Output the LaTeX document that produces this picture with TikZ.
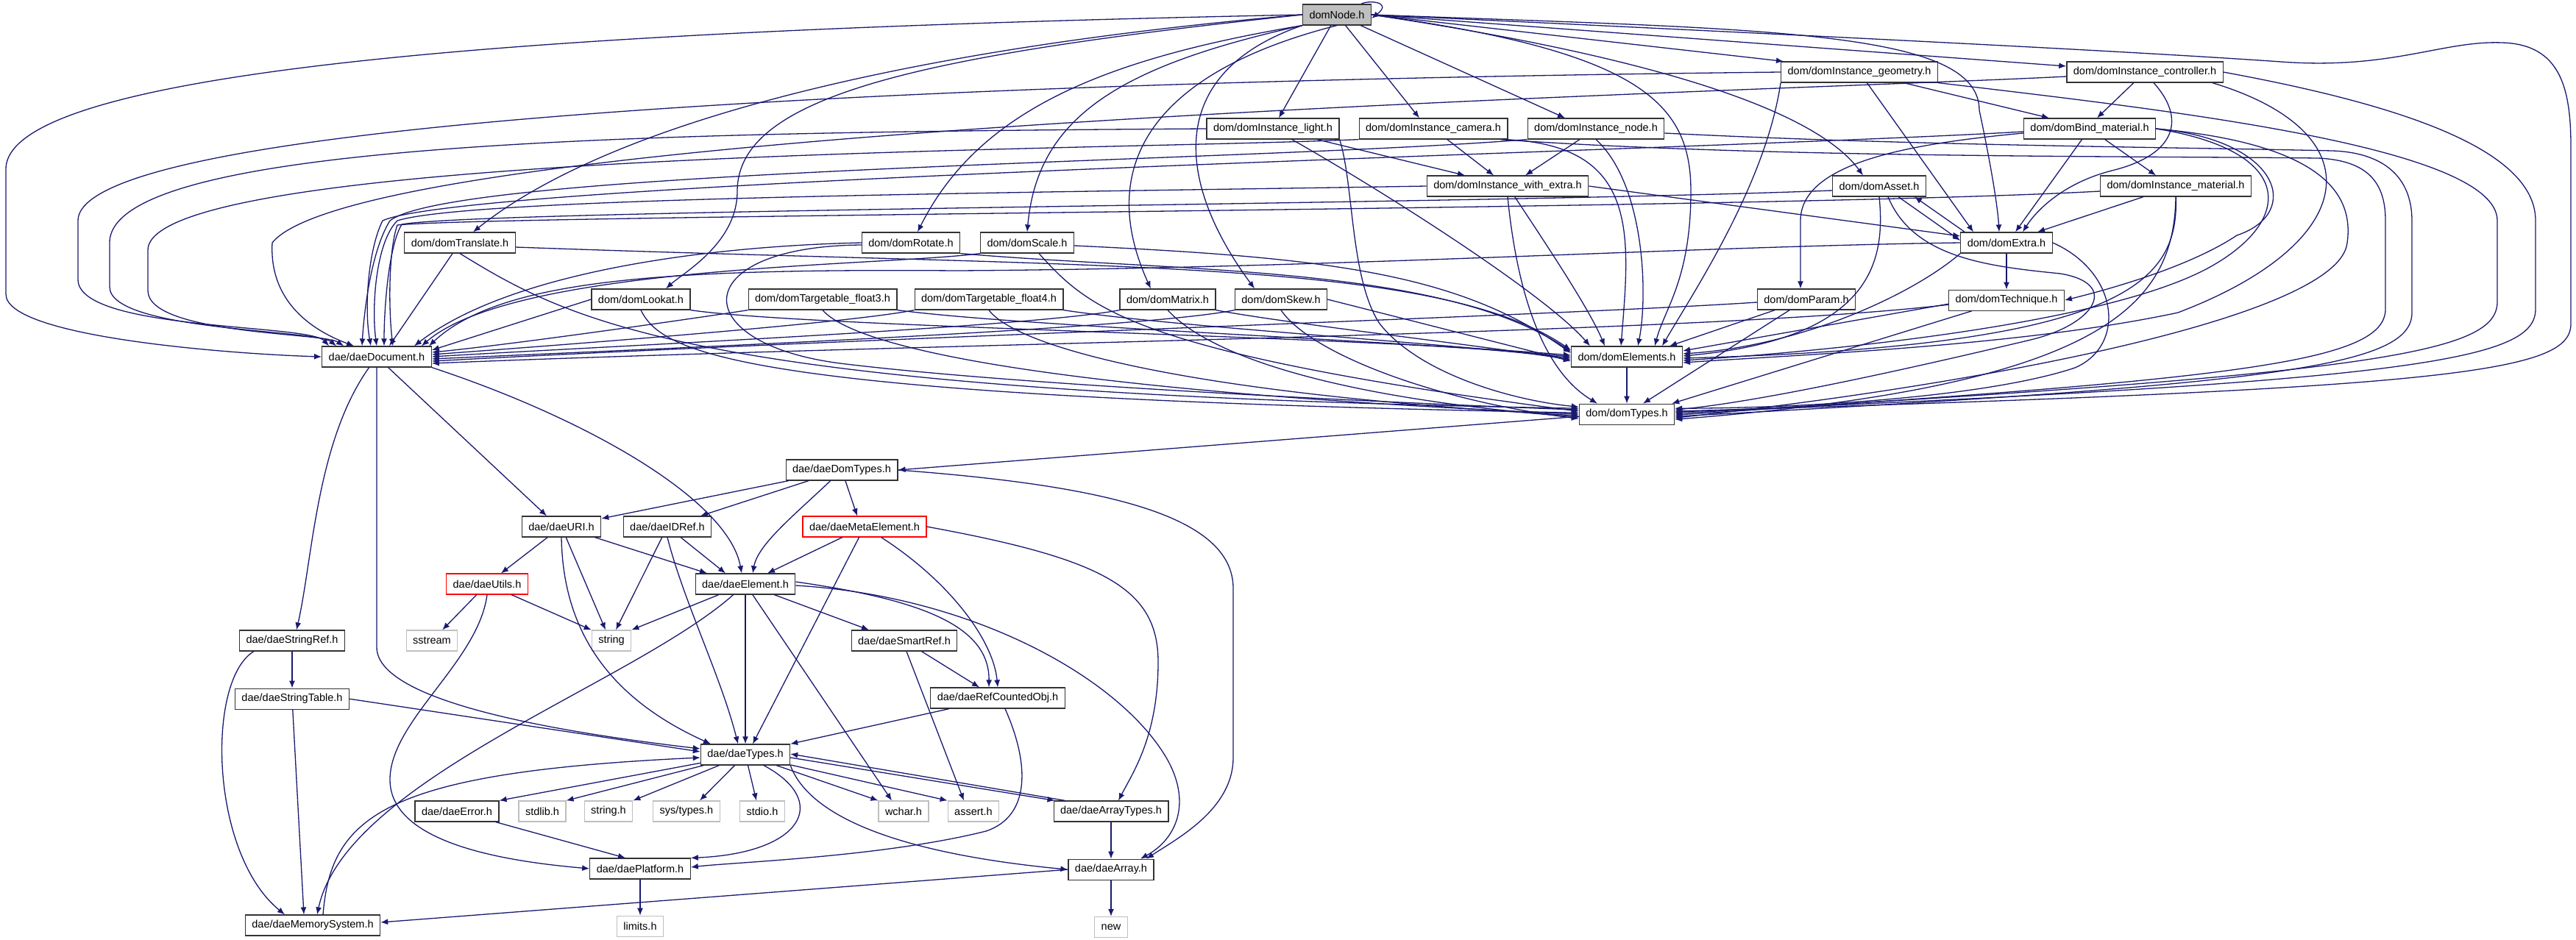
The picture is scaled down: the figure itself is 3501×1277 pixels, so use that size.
\documentclass[tikz,border=0pt]{standalone}
\usepackage{fontspec}
\setmainfont{Liberation Sans}
\usetikzlibrary{positioning,arrows.meta}
\definecolor{edgeblue}{HTML}{191970}
\definecolor{nodegrey}{HTML}{BFBFBF}

\begin{document}
\begin{tikzpicture}[
  x=1pt, y=-1pt,
  hdr/.style={draw=black!80, line width=1.2pt, fill=white, minimum height=28pt, inner xsep=9pt, inner ysep=2pt, font=\fontsize{14.5}{17}\selectfont},
  main/.style={hdr, fill=nodegrey},
  cut/.style={hdr, draw=red},
  sys/.style={hdr, draw=nodegrey},
  arr/.style={-{Latex[length=10pt,width=8pt]}, draw=edgeblue, line width=1.3pt}]
\path[use as bounding box, fill=white] (0,0) rectangle (3501,1277);
% ---- dom headers ----
\node[main] (domNode) at (1817,20) {domNode.h};
\node[hdr] (instGeom) at (2527,98) {dom/domInstance\_geometry.h};
\node[hdr] (instCtrl) at (2915,98) {dom/domInstance\_controller.h};
\node[hdr] (instLight) at (1730,175) {dom/domInstance\_light.h};
\node[hdr] (instCam) at (1948,175) {dom/domInstance\_camera.h};
\node[hdr] (instNode) at (2169,175) {dom/domInstance\_node.h};
\node[hdr] (bindMat) at (2840,175) {dom/domBind\_material.h};
\node[hdr] (instExtra) at (2049,253) {dom/domInstance\_with\_extra.h};
\node[hdr] (domAsset) at (2554,253) {dom/domAsset.h};
\node[hdr] (instMat) at (2957,253) {dom/domInstance\_material.h};
\node[hdr] (domTranslate) at (625,330) {dom/domTranslate.h};
\node[hdr] (domRotate) at (1238,330) {dom/domRotate.h};
\node[hdr] (domScale) at (1396,330) {dom/domScale.h};
\node[hdr] (domExtra) at (2727,330) {dom/domExtra.h};
\node[hdr] (domLookat) at (871,407) {dom/domLookat.h};
\node[hdr] (tgtFloat3) at (1118,407) {dom/domTargetable\_float3.h};
\node[hdr] (tgtFloat4) at (1344,407) {dom/domTargetable\_float4.h};
\node[hdr] (domMatrix) at (1587,407) {dom/domMatrix.h};
\node[hdr] (domSkew) at (1741,407) {dom/domSkew.h};
\node[hdr] (domParam) at (2455,407) {dom/domParam.h};
\node[hdr, below=49pt of domExtra] (domTechnique) {dom/domTechnique.h};
\node[hdr] (daeDocument) at (512,485) {dae/daeDocument.h};
\node[hdr] (domElements) at (2211,485) {dom/domElements.h};
\node[hdr, below=49pt of domElements] (domTypes) {dom/domTypes.h};
% ---- dae headers ----
\node[hdr] (daeDomTypes) at (1144,639) {dae/daeDomTypes.h};
\node[hdr] (daeURI) at (763,716) {dae/daeURI.h};
\node[hdr] (daeIDRef) at (907,716) {dae/daeIDRef.h};
\node[cut] (daeMeta) at (1175,716) {dae/daeMetaElement.h};
\node[cut] (daeUtils) at (662,794) {dae/daeUtils.h};
\node[hdr] (daeElement) at (1013,794) {dae/daeElement.h};
\node[hdr] (daeStringRef) at (397,871) {dae/daeStringRef.h};
\node[sys] (sstream) at (587,871) {sstream};
\node[sys] (strg) at (831,871) {string};
\node[hdr] (daeSmartRef) at (1229,871) {dae/daeSmartRef.h};
\node[hdr, below=50pt of daeStringRef] (daeStringTable) {dae/daeStringTable.h};
\node[hdr] (daeRefCounted) at (1356,949) {dae/daeRefCountedObj.h};
\node[hdr] (daeTypes) at (1013,1026) {dae/daeTypes.h};
\node[hdr] (daeError) at (621,1103) {dae/daeError.h};
\node[sys] (stdlibH) at (737,1103) {stdlib.h};
\node[sys] (stringH) at (827,1103) {string.h};
\node[sys] (sysTypesH) at (933,1103) {sys/types.h};
\node[sys] (stdioH) at (1036,1103) {stdio.h};
\node[sys] (wcharH) at (1228,1103) {wchar.h};
\node[sys] (assertH) at (1323,1103) {assert.h};
\node[hdr] (daeArrayTypes) at (1510,1103) {dae/daeArrayTypes.h};
\node[hdr] (daePlatform) at (870,1181) {dae/daePlatform.h};
\node[hdr, below=50pt of daeArrayTypes] (daeArray) {dae/daeArray.h};
\node[sys, below=49pt of daePlatform] (limitsH) {limits.h};
\node[sys, below=49pt of daeArray] (newH) {new};
\node[hdr] (daeMemSys) at (425,1258) {dae/daeMemorySystem.h};
% ---- domNode includes ----
\draw[arr] (domNode.west) .. controls (900,38) and (8,80) .. (8,230) -- (8,400) .. controls (8,460) and (330,482) .. (daeDocument.west);
\draw[arr] (domNode.east) .. controls (2500,50) and (2900,70) .. (3100,84) .. controls (3250,95) and (3320,55) .. (3400,58) .. controls (3480,60) and (3494,120) .. (3494,200) -- (3494,440) .. controls (3494,505) and (3350,528) .. ([yshift=4pt]domTypes.east);
\draw[arr] ([xshift=-14pt]domNode.north east) .. controls (1858,0) and (1894,2) .. ([yshift=-5pt]domNode.east);
\draw[arr] (domNode.west) .. controls (1300,60) and (850,150) .. ([xshift=18pt]domTranslate.north);
\draw[arr] (domNode.west) .. controls (1250,75) and (1002,130) .. (1002,260) .. controls (1002,330) and (930,370) .. ([xshift=34pt]domLookat.north);
\draw[arr] (domNode.south west) .. controls (1500,80) and (1330,150) .. ([xshift=9pt]domRotate.north);
\draw[arr] (domNode.south west) .. controls (1520,90) and (1410,160) .. (domScale.north);
\draw[arr] (domNode.south) .. controls (1560,100) and (1490,230) .. ([xshift=-23pt]domMatrix.north);
\draw[arr] (domNode.south west) .. controls (1580,100) and (1600,250) .. ([xshift=-36pt]domSkew.north);
\draw[arr] (domNode) -- ([xshift=8pt]instLight.north);
\draw[arr] (domNode) -- ([xshift=-19pt]instCam.north);
\draw[arr] (domNode) -- ([xshift=-42pt]instNode.north);
\draw[arr] (domNode.east) -- ([xshift=4pt]instGeom.north west);
\draw[arr] (domNode.east) -- ([yshift=8pt]instCtrl.west);
\draw[arr] (domNode.east) .. controls (2200,70) and (2460,140) .. ([xshift=-22pt]domAsset.north);
\draw[arr] (domNode.east) .. controls (2400,40) and (2690,40) .. (2690,150) .. controls (2705,220) and (2715,280) .. ([xshift=-10pt]domExtra.north);
\draw[arr] (domNode.east) .. controls (2230,70) and (2298,140) .. (2298,260) .. controls (2298,380) and (2262,420) .. ([xshift=38pt]domElements.north);
% ---- instance headers ----
\draw[arr] (instLight) -- ([xshift=-58pt]instExtra.north);
\draw[arr] (instCam) -- ([xshift=-19pt]instExtra.north);
\draw[arr] (instNode) -- ([xshift=24pt]instExtra.north);
\draw[arr] (instGeom) -- ([xshift=-55pt]bindMat.north);
\draw[arr] (instGeom) -- ([xshift=-45pt]domExtra.north);
\draw[arr] (instCtrl) -- ([xshift=10pt]bindMat.north);
\draw[arr] ([xshift=12pt]instCtrl.south) .. controls (2970,160) and (2960,210) .. (2870,232) .. controls (2800,250) and (2765,290) .. ([xshift=22pt]domExtra.north);
\draw[arr] (bindMat) -- ([xshift=-27pt]instMat.north);
\draw[arr] (bindMat) -- ([xshift=12pt]domExtra.north);
\draw[arr] ([yshift=-6pt]bindMat.west) .. controls (2600,195) and (2447,220) .. (2447,300) -- ([xshift=-8pt]domParam.north);
\draw[arr] (bindMat.east) .. controls (3100,190) and (3130,290) .. (3040,320) .. controls (2980,360) and (2880,390) .. (domTechnique.east);
\draw[arr] (instMat) -- ([xshift=42pt]domExtra.north);
\draw[arr] ([xshift=-38pt]domAsset.south east) -- ([yshift=3pt]domExtra.west);
\draw[arr] ([xshift=6pt]domExtra.north west) -- ([xshift=-16pt]domAsset.south east);
\draw[arr] (instExtra.east) -- ([yshift=9pt]domExtra.west);
\draw[arr] (domExtra) -- (domTechnique);
% ---- to daeDocument ----
\draw[arr] (instGeom.west) .. controls (1500,108) and (106,150) .. (106,300) -- (106,380) .. controls (106,450) and (420,440) .. ([xshift=10pt]daeDocument.north west);
\draw[arr] (instLight.west) .. controls (900,180) and (149,190) .. (149,330) -- (149,390) .. controls (149,450) and (430,448) .. ([xshift=20pt]daeDocument.north west);
\draw[arr] (instCam.south west) .. controls (1500,205) and (201,205) .. (201,340) -- (201,395) .. controls (201,455) and (440,452) .. ([xshift=30pt]daeDocument.north west);
\draw[arr] ([yshift=-6pt]instCtrl.west) .. controls (2400,125) and (500,170) .. (370,330) .. controls (365,420) and (440,455) .. ([xshift=44pt]daeDocument.north west);
\draw[arr] (instNode.south west) .. controls (1700,220) and (620,230) .. (530,300) .. controls (505,340) and (495,420) .. ([xshift=-20pt]daeDocument.north);
\draw[arr] ([yshift=-4pt]bindMat.west) .. controls (2300,205) and (640,245) .. (520,300) .. controls (500,340) and (495,420) .. ([xshift=-8pt]daeDocument.north);
\draw[arr] (instExtra.west) .. controls (1400,262) and (640,268) .. (540,300) .. controls (510,330) and (505,420) .. (daeDocument.north);
\draw[arr] ([yshift=-6pt]domAsset.west) .. controls (2000,278) and (660,285) .. (546,305) .. controls (528,335) and (522,420) .. ([xshift=10pt]daeDocument.north);
\draw[arr] ([yshift=-7pt]instMat.west) .. controls (2400,285) and (680,292) .. (540,306) .. controls (528,340) and (528,420) .. ([xshift=22pt]daeDocument.north);
\draw[arr] (domTranslate) -- ([xshift=17pt]daeDocument.north);
\draw[arr] (domRotate.west) .. controls (950,335) and (690,372) .. ([xshift=-24pt]daeDocument.north east);
\draw[arr] (domScale.south west) .. controls (1200,362) and (700,360) .. ([xshift=-14pt]daeDocument.north east);
\draw[arr] (domExtra.west) .. controls (2300,335) and (1800,365) .. (1300,368) .. controls (900,365) and (680,380) .. ([xshift=-4pt]daeDocument.north east);
\draw[arr] (domLookat.west) -- ([yshift=9pt]daeDocument.east);
\draw[arr] (tgtFloat3.south west) .. controls (950,432) and (700,468) .. ([yshift=6pt]daeDocument.east);
\draw[arr] (tgtFloat4.south west) .. controls (1150,440) and (750,470) .. ([yshift=3pt]daeDocument.east);
\draw[arr] (domMatrix.south west) .. controls (1400,445) and (800,472) .. (daeDocument.east);
\draw[arr] (domSkew.south west) .. controls (1550,448) and (850,476) .. ([yshift=-3pt]daeDocument.east);
\draw[arr] ([yshift=-4pt]domParam.west) .. controls (2100,430) and (1200,458) .. ([yshift=-6pt]daeDocument.east);
\draw[arr] ([yshift=-6pt]domTechnique.west) .. controls (2300,455) and (1300,465) .. ([yshift=-9pt]daeDocument.east);
% ---- to domElements ----
\draw[arr] ([yshift=-6pt]domTranslate.east) .. controls (1500,365) and (1950,350) .. ([yshift=9pt]domElements.west);
\draw[arr] (domRotate.south east) .. controls (1600,370) and (1960,360) .. ([yshift=7pt]domElements.west);
\draw[arr] ([yshift=-4pt]domScale.east) .. controls (1800,350) and (1980,370) .. ([yshift=5pt]domElements.west);
\draw[arr] (domLookat.south east) .. controls (1100,445) and (1800,455) .. ([yshift=2pt]domElements.west);
\draw[arr] (tgtFloat3.south east) .. controls (1400,445) and (1900,462) .. (domElements.west);
\draw[arr] (tgtFloat4.south east) .. controls (1600,445) and (1950,465) .. ([yshift=-2pt]domElements.west);
\draw[arr] (domMatrix.south east) .. controls (1750,440) and (2000,468) .. ([yshift=-4pt]domElements.west);
\draw[arr] (domSkew.east) -- ([yshift=-6pt]domElements.west);
\draw[arr] (instLight) .. controls (1880,260) and (2100,400) .. ([xshift=-50pt]domElements.north);
\draw[arr] ([xshift=-8pt]instCam.south east) .. controls (2230,195) and (2215,320) .. ([xshift=-8pt]domElements.north);
\draw[arr] (instNode.south) .. controls (2235,250) and (2240,400) .. ([xshift=15pt]domElements.north);
\draw[arr] (instExtra) .. controls (2100,330) and (2160,420) .. ([xshift=-30pt]domElements.north);
\draw[arr] (instGeom.south west) .. controls (2400,250) and (2300,400) .. ([xshift=48pt]domElements.north);
\draw[arr] (domParam) -- ([xshift=58pt]domElements.north);
\draw[arr] ([yshift=-5pt]domTechnique.west) -- ([yshift=8pt]domElements.east);
\draw[arr] (domExtra.south west) .. controls (2600,400) and (2450,470) .. ([yshift=4pt]domElements.east);
\draw[arr] (domAsset.south) .. controls (2562,350) and (2550,460) .. ([yshift=1pt]domElements.east);
\draw[arr] (instMat) .. controls (2960,380) and (2900,470) .. ([yshift=-2pt]domElements.east);
\draw[arr] (bindMat.east) .. controls (3120,205) and (3120,300) .. (3000,365) .. controls (2850,445) and (2450,480) .. ([yshift=-5pt]domElements.east);
\draw[arr] ([xshift=-15pt]instCtrl.south east) .. controls (3230,180) and (3210,330) .. (2960,425) .. controls (2750,470) and (2450,482) .. ([yshift=-8pt]domElements.east);
% ---- to domTypes ----
\draw[arr] (domElements) -- (domTypes);
\draw[arr] (instExtra.south) .. controls (2060,380) and (2090,500) .. ([xshift=-40pt]domTypes.north);
\draw[arr] (domParam) -- ([xshift=22pt]domTypes.north);
\draw[arr] (domTechnique) -- ([xshift=-4pt]domTypes.north east);
\draw[arr] (domTranslate.south) .. controls (780,440) and (950,535) .. ([yshift=8pt]domTypes.west);
\draw[arr] ([yshift=-3pt]domRotate.west) .. controls (930,335) and (930,470) .. (1150,495) .. controls (1400,525) and (1900,548) .. ([yshift=6pt]domTypes.west);
\draw[arr] ([xshift=16pt]domScale.south) .. controls (1480,420) and (1540,480) .. ([yshift=4pt]domTypes.west);
\draw[arr] (domLookat.south) .. controls (900,480) and (1000,540) .. ([yshift=2pt]domTypes.west);
\draw[arr] (tgtFloat3.south) .. controls (1160,470) and (1400,530) .. (domTypes.west);
\draw[arr] (tgtFloat4.south) .. controls (1380,470) and (1600,535) .. ([yshift=-2pt]domTypes.west);
\draw[arr] (domMatrix.south) .. controls (1640,480) and (1800,540) .. ([yshift=-4pt]domTypes.west);
\draw[arr] (domSkew.south) .. controls (1780,480) and (1950,545) .. ([yshift=-6pt]domTypes.west);
\draw[arr] (instLight.south east) .. controls (1840,250) and (1835,380) .. (1875,440) .. controls (1930,510) and (2060,545) .. ([yshift=10pt]domTypes.west);
\draw[arr] (instCtrl.east) .. controls (3250,140) and (3446,200) .. (3446,300) -- (3446,420) .. controls (3446,488) and (3300,518) .. ([yshift=3pt]domTypes.east);
\draw[arr] (instGeom.south east) .. controls (2950,150) and (3394,200) .. (3394,300) -- (3394,410) .. controls (3394,478) and (3250,508) .. ([yshift=1pt]domTypes.east);
\draw[arr] ([xshift=-10pt]instCam.south east) .. controls (2400,215) and (2900,212) .. (3150,215) .. controls (3220,218) and (3242,250) .. (3242,300) -- (3242,420) .. controls (3242,492) and (3050,515) .. ([yshift=-1pt]domTypes.east);
\draw[arr] ([yshift=-6pt]instNode.east) .. controls (2600,198) and (2950,200) .. (3170,205) .. controls (3250,208) and (3278,250) .. (3278,300) -- (3278,425) .. controls (3278,498) and (3100,522) .. ([yshift=-3pt]domTypes.east);
\draw[arr] (bindMat.east) .. controls (3150,195) and (3200,260) .. (3190,330) .. controls (3180,430) and (2700,522) .. ([yshift=-5pt]domTypes.east);
\draw[arr] (instMat.south) .. controls (2955,420) and (2850,525) .. ([yshift=-7pt]domTypes.east);
\draw[arr] ([xshift=12pt]domAsset.south) .. controls (2600,350) and (2700,362) .. (2800,372) .. controls (2880,385) and (2850,440) .. (2760,462) .. controls (2600,500) and (2400,545) .. ([yshift=6pt]domTypes.east);
\draw[arr] (domExtra.east) .. controls (2880,370) and (2890,470) .. (2820,500) .. controls (2700,540) and (2450,555) .. ([yshift=8pt]domTypes.east);
% ---- dae layer ----
\draw[arr] ([yshift=-3pt]domTypes.west) -- (daeDomTypes.east);
\draw[arr] (daeDomTypes) -- (daeURI);
\draw[arr] (daeDomTypes) -- (daeIDRef);
\draw[arr] (daeDomTypes) .. controls (1080,700) and (1030,740) .. ([xshift=10pt]daeElement.north);
\draw[arr] (daeDomTypes) -- ([xshift=-10pt]daeMeta.north);
\draw[arr] (daeDomTypes.east) .. controls (1500,660) and (1676,700) .. (1676,800) -- (1676,1030) .. controls (1676,1100) and (1600,1140) .. ([xshift=48pt]daeArray.north);
\draw[arr] (daeDocument) -- ([xshift=-20pt]daeURI.north);
\draw[arr] (daeDocument.south east) .. controls (800,570) and (990,680) .. ([xshift=-5pt]daeElement.north);
\draw[arr] (daeDocument) .. controls (430,600) and (425,760) .. ([xshift=6pt]daeStringRef.north);
\draw[arr] (daeDocument.south) -- (512,880) .. controls (512,960) and (800,1000) .. ([yshift=8pt]daeTypes.west);
\draw[arr] (daeURI) -- (daeUtils);
\draw[arr] (daeURI) -- ([xshift=-8pt]strg.north);
\draw[arr] (daeURI) -- ([xshift=-52pt]daeElement.north);
\draw[arr] (daeURI.south) .. controls (765,860) and (830,950) .. ([xshift=-47pt]daeTypes.north);
\draw[arr] (daeIDRef) -- ([xshift=6pt]strg.north);
\draw[arr] (daeIDRef) -- ([xshift=-27pt]daeElement.north);
\draw[arr] (daeIDRef.south) .. controls (930,820) and (980,920) .. ([xshift=-10pt]daeTypes.north);
\draw[arr] (daeMeta) -- ([xshift=30pt]daeElement.north);
\draw[arr] (daeMeta) -- ([xshift=10pt]daeTypes.north);
\draw[arr] (daeMeta) .. controls (1290,790) and (1350,870) .. (daeRefCounted.north);
\draw[arr] (daeMeta.east) .. controls (1500,760) and (1574,800) .. (1574,900) .. controls (1574,1000) and (1540,1050) .. ([xshift=10pt]daeArrayTypes.north);
\draw[arr] (daeUtils) -- (sstream);
\draw[arr] (daeUtils) -- (strg.north west);
\draw[arr] (daeUtils.south) .. controls (650,900) and (530,980) .. (530,1060) .. controls (530,1150) and (700,1172) .. (daePlatform.west);
\draw[arr] (daeElement) -- (strg.north east);
\draw[arr] (daeElement) -- (daeTypes);
\draw[arr] (daeElement) .. controls (860,930) and (470,1060) .. ([xshift=6pt]daeMemSys.north);
\draw[arr] (daeElement) -- ([xshift=-16pt]wcharH.north);
\draw[arr] (daeElement) -- ([xshift=-48pt]daeSmartRef.north);
\draw[arr] ([yshift=3pt]daeElement.east) .. controls (1250,815) and (1345,850) .. ([xshift=-12pt]daeRefCounted.north);
\draw[arr] ([yshift=-2pt]daeElement.east) .. controls (1320,810) and (1520,920) .. (1585,1030) .. controls (1620,1090) and (1600,1140) .. ([xshift=40pt]daeArray.north);
\draw[arr] (daeStringRef) -- (daeStringTable);
\draw[arr] ([xshift=20pt]daeStringRef.south west) .. controls (280,925) and (285,1160) .. ([xshift=-38pt]daeMemSys.north);
\draw[arr] (daeStringTable) -- ([xshift=-12pt]daeMemSys.north);
\draw[arr] (daeStringTable.east) -- ([yshift=4pt]daeTypes.west);
\draw[arr] (daeSmartRef) -- ([xshift=-25pt]daeRefCounted.north);
\draw[arr] ([xshift=3pt]daeSmartRef.south) -- ([xshift=-13pt]assertH.north);
\draw[arr] (daeRefCounted) -- (daeTypes.north east);
\draw[arr] ([xshift=10pt]daeRefCounted.south) .. controls (1400,1040) and (1400,1110) .. (1340,1130) .. controls (1200,1165) and (1000,1172) .. ([yshift=2pt]daePlatform.east);
% ---- daeTypes fan-out ----
\draw[arr] (daeTypes) -- (daeError.north east);
\draw[arr] (daeTypes) -- (stdlibH.north east);
\draw[arr] (daeTypes) -- (stringH.north east);
\draw[arr] (daeTypes) -- ([xshift=18pt]sysTypesH.north);
\draw[arr] (daeTypes) -- ([xshift=-8pt]stdioH.north);
\draw[arr] (daeTypes) -- (wcharH.north west);
\draw[arr] (daeTypes) -- (assertH.north west);
\draw[arr] ([yshift=-4pt]daeTypes.east) -- ([xshift=2pt]daeArrayTypes.north west);
\draw[arr] ([xshift=16pt]daeArrayTypes.north west) -- ([yshift=1pt]daeTypes.east);
\draw[arr] (daeTypes.south east) .. controls (1100,1110) and (1220,1160) .. (daeArray.west);
\draw[arr] ([xshift=25pt]daeTypes.south) .. controls (1130,1090) and (1090,1160) .. (daePlatform.north east);
\draw[arr] ([xshift=14pt]daeMemSys.north) .. controls (450,1110) and (520,1050) .. ([yshift=-4pt]daeTypes.west);
\draw[arr] (daeArrayTypes) -- (daeArray);
\draw[arr] (daeArray) -- (newH);
\draw[arr] (daeArray.west) -- ([yshift=4pt]daeMemSys.east);
\draw[arr] (daeError) -- ([xshift=-20pt]daePlatform.north);
\draw[arr] (daePlatform) -- (limitsH);
\end{tikzpicture}
\end{document}
